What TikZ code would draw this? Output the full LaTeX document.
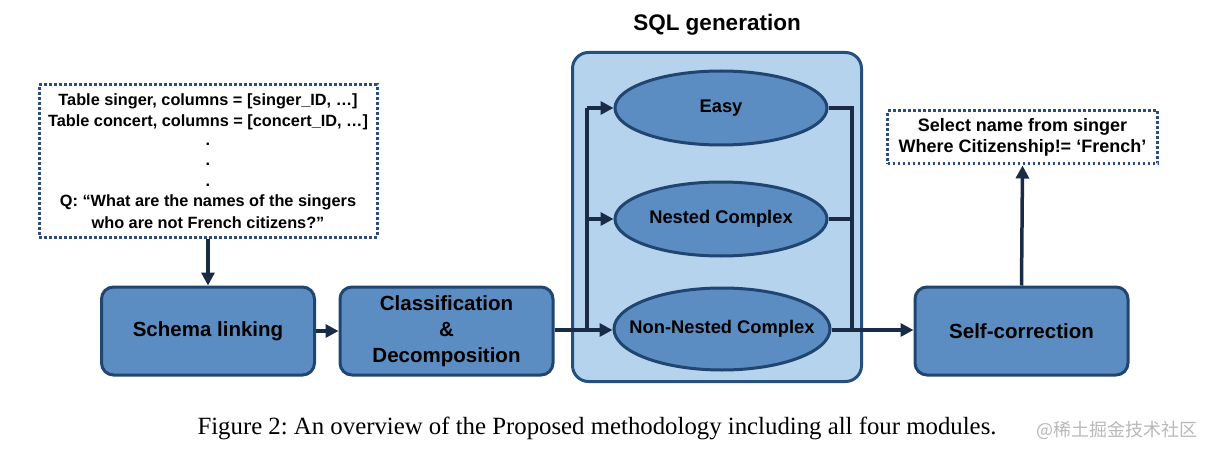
\documentclass[tikz,border=0pt]{standalone}
\usepackage{fontspec}
\setmainfont{Liberation Serif}
\setsansfont{Liberation Sans}
\newfontfamily\cjk{Noto Sans CJK SC}
\usetikzlibrary{arrows.meta,shapes.geometric,positioning}
\definecolor{boxfill}{HTML}{5B8DC2}
\definecolor{boxline}{HTML}{1F4570}
\definecolor{contfill}{HTML}{B5D3EC}
\definecolor{contline}{HTML}{23507F}
\definecolor{arrowc}{HTML}{1A2B45}
\definecolor{dotline}{HTML}{2B4C80}
\tikzset{
  module/.style={draw=boxline, line width=3pt, fill=boxfill, rounded corners=12pt,
    minimum width=213pt, minimum height=88pt, align=center,
    font=\sffamily\bfseries\fontsize{20.5}{25}\selectfont, text=black},
  oval/.style={ellipse, draw=boxline, line width=3pt, fill=boxfill, inner sep=0pt,
    minimum width=212pt, minimum height=74pt},
  ovaltext/.style={font=\sffamily\bfseries\fontsize{18.3}{22}\selectfont, text=black},
  dotbox/.style={draw=dotline, line width=3pt, dash pattern=on 2.6pt off 2.4pt,
    align=center, font=\sffamily\bfseries\fontsize{16}{21.5}\selectfont, inner sep=0pt},
  conn/.style={draw=arrowc, line width=3.5pt},
  arr/.style={conn, -{Triangle[length=13pt,width=13pt]}},
}
\begin{document}
\begin{tikzpicture}[x=1pt,y=-1pt]
\useasboundingbox (0,0) rectangle (1214,457);
% container
\node[draw=contline, line width=3pt, fill=contfill, rounded corners=16pt,
  minimum width=289pt, minimum height=329pt, inner sep=0pt] (cont) at (717,217) {};
\node[font=\sffamily\bfseries\fontsize{22.5}{27}\selectfont] (title) at (717,25) {SQL generation};
% input box
\node[dotbox, minimum width=338pt, minimum height=152pt] (inbox) at (208,161) {};
\node[font=\sffamily\bfseries\fontsize{16.3}{21.5}\selectfont, align=center] (intext) at (208,161)
  {Table singer, columns = [singer\_ID, \dots]\\
   Table concert, columns = [concert\_ID, \dots]\\[-3pt]
   .\\[-1pt] .\\[-1pt] .\\[-1pt]
   Q: “What are the names of the singers\\
   who are not French citizens?”};
% modules
\node[module] (schema) at (208,331) {Schema linking};
\node[module] (classif) at (446.5,331) {Classification\\[1pt]\&\\[1pt]Decomposition};
\node[module] (selfc) at (1021.5,331) {Self-correction};
% ovals
\node[oval] (easy) at (721,108) {};
\node[ovaltext] (easyt) at (easy) {Easy};
\node[oval] (nested) at (721,219) {};
\node[ovaltext] (nestedt) at (nested) {Nested Complex};
\node[oval, minimum width=216pt, minimum height=82pt] (nonnested) at (722,329) {};
\node[ovaltext] (nonnestedt) at (nonnested) {Non-Nested Complex};
% output box
\node[dotbox, minimum width=270pt, minimum height=53pt] (outbox) at (1022.5,137.5)
  {\fontsize{18}{23}\selectfont Select name from singer\\ \fontsize{18}{23}\selectfont Where Citizenship!= ‘French’};
% coordinates for buses
\coordinate (lb) at (587,330);
\coordinate (rb) at (852,330);
% connectors
\draw[arr] (inbox.south) -- (schema.north);
\draw[arr] (schema.east) -- (classif.west);
\draw[arr] (classif.east |- lb) -- (nonnested.west |- lb);
\draw[conn] (lb) -- (lb |- easy.west);
\draw[arr] (lb |- easy.west) -- (easy.west);
\draw[arr] (lb |- nested.west) -- (nested.west);
\draw[conn] (easy.east) -- (rb |- easy.east) -- (rb);
\draw[conn] (nested.east) -- (rb |- nested.east);
\draw[arr] (nonnested.east |- rb) -- (selfc.west |- rb);
\draw[arr] (selfc.north) -- (outbox.south);
% caption
\node[font=\fontsize{24.8}{30}\selectfont, anchor=west] (cap) at (194,428)
  {Figure 2:\ An overview of the Proposed methodology including all four modules.};
\node[font=\cjk\fontsize{18}{22}\selectfont, text=black!28, anchor=west] (wm) at (1033,430) {@稀土掘金技术社区};
\end{tikzpicture}
\end{document}
